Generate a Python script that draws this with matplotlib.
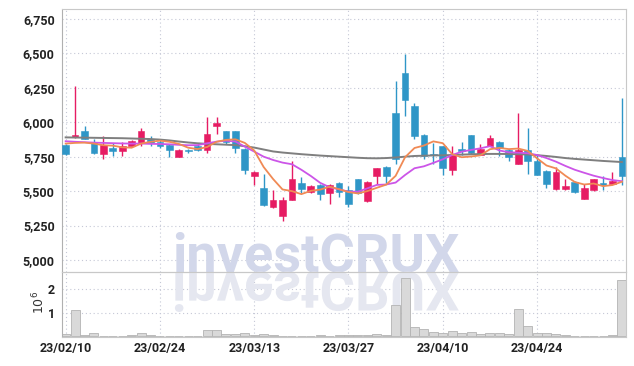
"""
plot.py
-------
Daily candlestick chart (23/02/10 - 23/05) with 5/20/long moving averages,
volume panel underneath and the investCRUX watermark + reflection.

Output
------
  out.png  (634 x 366 px)
"""

import matplotlib as mpl
import matplotlib.pyplot as plt
import numpy as np
import pandas as pd
from matplotlib.font_manager import FontProperties
from matplotlib.patches import PathPatch
from matplotlib.textpath import TextPath
from matplotlib.ticker import FuncFormatter
from matplotlib.transforms import Affine2D

mpl.rcParams.update({
    "figure.dpi": 100, "savefig.dpi": 100,
    "font.size": 9, "font.family": ["Roboto", "DejaVu Sans"],
})

# ---- data --------------------------------------------------------------
opens = [5835, 5890, 5940, 5855, 5770, 5810, 5790, 5830, 5850, 5875,
         5860, 5835, 5750, 5795, 5830, 5795, 5970, 5935, 5935, 5805,
         5612, 5520, 5385, 5320, 5435, 5560, 5490, 5545, 5485, 5560,
         5510, 5585, 5425, 5610, 5675, 6070, 6360, 6115, 5905, 5765,
         5825, 5650, 5805, 5905, 5765, 5830, 5860, 5800, 5700, 5795,
         5720, 5645, 5515, 5515, 5565, 5440, 5505, 5550, 5555, 5750]
highs = [5840, 6260, 5975, 5875, 5900, 5850, 5855, 5870, 5955, 5900,
         5870, 5845, 5805, 5805, 5840, 6040, 6040, 5940, 5940, 5810,
         5645, 5625, 5510, 5460, 5715, 5600, 5545, 5550, 5550, 5565,
         5535, 5590, 5570, 5670, 5680, 6300, 6495, 6140, 5915, 5850,
         5830, 5825, 5860, 5910, 5840, 5905, 5865, 5805, 6065, 5955,
         5760, 5650, 5675, 5585, 5570, 5550, 5590, 5610, 5640, 6175]
lows = [5765, 5885, 5875, 5770, 5735, 5755, 5755, 5825, 5830, 5830,
        5815, 5750, 5745, 5780, 5790, 5780, 5915, 5840, 5775, 5625,
        5545, 5395, 5380, 5285, 5435, 5485, 5485, 5435, 5410, 5460,
        5385, 5480, 5420, 5555, 5560, 5695, 6045, 5875, 5730, 5700,
        5615, 5620, 5760, 5770, 5760, 5825, 5755, 5720, 5695, 5625,
        5615, 5520, 5510, 5510, 5485, 5440, 5500, 5510, 5555, 5545]
closes = [5770, 5905, 5880, 5775, 5835, 5790, 5830, 5865, 5940, 5850,
          5830, 5795, 5800, 5790, 5795, 5915, 5995, 5860, 5815, 5650,
          5640, 5400, 5435, 5435, 5590, 5515, 5535, 5480, 5545, 5495,
          5410, 5485, 5565, 5665, 5610, 5730, 6160, 5900, 5755, 5760,
          5665, 5760, 5790, 5780, 5805, 5885, 5810, 5745, 5800, 5720,
          5615, 5550, 5640, 5535, 5490, 5525, 5585, 5545, 5575, 5610]

ma_short = [5845, 5850, 5852, 5845, 5833, 5830, 5818, 5815, 5845, 5858,
            5866, 5858, 5843, 5815, 5805, 5820, 5858, 5872, 5876, 5850,
            5795, 5675, 5588, 5512, 5500, 5478, 5502, 5511, 5532, 5514,
            5493, 5483, 5500, 5524, 5547, 5611, 5746, 5813, 5831, 5861,
            5848, 5768, 5746, 5751, 5760, 5804, 5814, 5805, 5809, 5792,
            5738, 5686, 5665, 5612, 5566, 5548, 5555, 5536, 5544, 5568]
ma_mid = [5862, 5858, 5855, 5852, 5850, 5848, 5846, 5845, 5845, 5843,
          5842, 5840, 5836, 5833, 5834, 5847, 5859, 5866, 5860, 5823,
          5787, 5750, 5726, 5707, 5695, 5655, 5610, 5560, 5528, 5513,
          5496, 5496, 5520, 5545, 5548, 5562, 5617, 5666, 5680, 5705,
          5731, 5762, 5786, 5799, 5811, 5826, 5795, 5782, 5779, 5775,
          5762, 5740, 5714, 5683, 5655, 5633, 5612, 5595, 5580, 5572]
ma_long = [5890, 5889, 5888, 5887, 5886, 5885, 5884, 5882, 5880, 5878,
           5874, 5868, 5860, 5853, 5847, 5843, 5840, 5837, 5834, 5826,
           5816, 5802, 5788, 5780, 5774, 5768, 5763, 5758, 5754, 5750,
           5746, 5742, 5739, 5738, 5740, 5744, 5750, 5755, 5757, 5759,
           5760, 5762, 5765, 5767, 5769, 5770, 5770, 5769, 5768, 5766,
           5761, 5755, 5748, 5740, 5734, 5729, 5724, 5719, 5715, 5711]

volume_m = [0.08, 1.10, 0.05, 0.13, 0.03, 0.03, 0.03, 0.04, 0.13, 0.04,
            0.03, 0.03, 0.03, 0.02, 0.03, 0.25, 0.25, 0.08, 0.08, 0.13,
            0.05, 0.08, 0.04, 0.03, 0.03, 0.03, 0.03, 0.05, 0.03, 0.04,
            0.05, 0.05, 0.07, 0.10, 0.05, 1.30, 2.46, 0.37, 0.29, 0.18,
            0.14, 0.20, 0.15, 0.18, 0.10, 0.12, 0.12, 0.10, 1.17, 0.42,
            0.14, 0.12, 0.10, 0.04, 0.03, 0.03, 0.03, 0.03, 0.04, 2.36]

date_ticks = [0, 10, 20, 30, 40, 50]
date_labels = ["23/02/10", "23/02/24", "23/03/13",
               "23/03/27", "23/04/10", "23/04/24"]
price_ticks = [5000, 5250, 5500, 5750, 6000, 6250, 6500, 6750]
volume_ticks = [1, 2]

UP, DOWN = "#e61c63", "#2f96c7"
GRID = "#c5c8d6"
SPINE = "#c8c8c8"


def style_axes(ax):
    ax.set_facecolor("none")
    for sp in ax.spines.values():
        sp.set_color(SPINE)
        sp.set_linewidth(0.8)
    ax.spines["left"].set_color("#b0b0b0")
    ax.grid(True, linestyle=(0, (1, 2.5)), color=GRID, linewidth=0.8)
    ax.tick_params(length=0, colors="#222222", labelsize=9)
    for lab in ax.get_xticklabels() + ax.get_yticklabels():
        lab.set_fontweight("bold")


def main():
    df = pd.DataFrame({
        "open": opens, "high": highs, "low": lows, "close": closes,
        "ma_s": ma_short, "ma_m": ma_mid, "ma_l": ma_long, "vol": volume_m,
    })
    x = np.arange(len(df))
    up = df["close"] >= df["open"]
    colors = np.where(up, UP, DOWN)

    fig = plt.figure(figsize=(6.34, 3.66))
    ax = fig.add_axes([0.0973, 0.2577, 0.8896, 0.7169])
    axv = fig.add_axes([0.0973, 0.0801, 0.8896, 0.1776], sharex=ax)

    # candles
    ax.vlines(x, df["low"], df["high"], colors=colors, linewidth=1.0, zorder=2)
    body_lo = np.minimum(df["open"], df["close"])
    body_h = np.maximum(np.abs(df["close"] - df["open"]), 12)
    ax.bar(x, body_h, bottom=body_lo, width=0.72, color=colors,
           edgecolor=colors, linewidth=0.4, zorder=3)

    # moving averages
    ax.plot(x, df["ma_l"], color="#7f7f7f", lw=1.4, zorder=4)
    ax.plot(x, df["ma_m"], color="#cc55e8", lw=1.3, zorder=4)
    ax.plot(x, df["ma_s"], color="#f08a55", lw=1.3, zorder=4)

    ax.set_xlim(-0.42, 59.4)
    ax.set_ylim(4915, 6820)
    ax.set_yticks(price_ticks)
    ax.yaxis.set_major_formatter(FuncFormatter(lambda v, _: f"{v:,.0f}"))
    ax.set_xticks(date_ticks)
    ax.tick_params(axis="x", labelbottom=False)
    ax.tick_params(axis="y", pad=5)

    # volume
    axv.bar(x, df["vol"], width=0.95, color="#d9d9d9",
            edgecolor="#b3b3b3", linewidth=0.6, zorder=2)
    axv.set_ylim(-0.02, 2.73)
    axv.set_yticks(volume_ticks)
    axv.set_xticks(date_ticks)
    axv.set_xticklabels(date_labels)
    axv.tick_params(axis="x", pad=4)
    axv.tick_params(axis="y", pad=5)
    axv.set_ylabel(r"$10^{6}$", fontsize=9, color="#333333")
    axv.yaxis.set_label_coords(-0.026, 0.53)

    style_axes(ax)
    style_axes(axv)

    # watermark with its mirrored reflection (above the grid, below marks)
    wm_fp = FontProperties(family=["Roboto", "DejaVu Sans"], weight="bold")
    fs = 39
    x0, base = 172, 366 - 272
    ax.text(x0 / 634, base / 366, "investCRUX", transform=fig.transFigure,
            fontproperties=wm_fp, fontsize=fs, color="#d2d7ea",
            ha="left", va="baseline", zorder=1.8, clip_on=False)
    tp = TextPath((0, 0), "investCRUX", size=fs * 100 / 72, prop=wm_fp)
    refl = PathPatch(tp, transform=Affine2D().scale(1, -1).translate(x0, base),
                     facecolor="#e5e7f0", edgecolor="none", zorder=1.8)
    refl.set_clip_on(False)
    axv.add_artist(refl)

    fig.savefig("out.png", facecolor="white")
    plt.close(fig)


if __name__ == "__main__":
    main()
